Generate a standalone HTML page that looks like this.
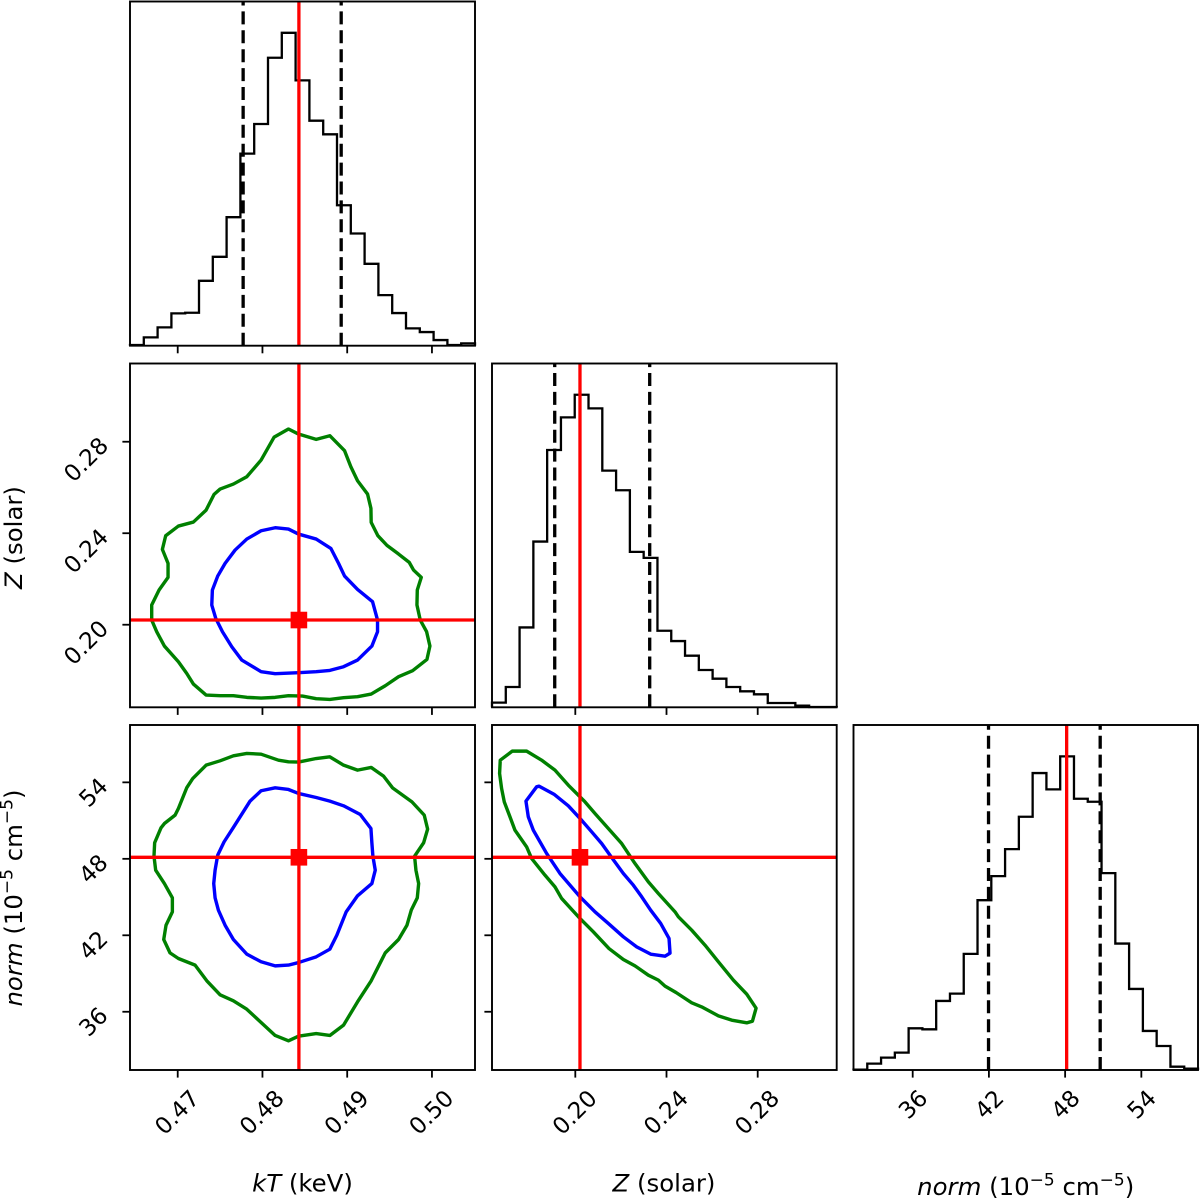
<!DOCTYPE html>
<html lang="en">
<head>
<meta charset="utf-8">
<title>Corner plot of kT, Z and norm</title>
<style>
html,body{margin:0;padding:0;background:#fff;}
svg{display:block;}
text{font-family:"DejaVu Sans","Liberation Sans",sans-serif;fill:#000;}
.tick-label{font-size:23px;}
.axis-title{font-size:24.4px;}
.math{font-style:italic;}
</style>
</head>
<body>
<svg id="chart" xmlns="http://www.w3.org/2000/svg" width="1200" height="1198" viewBox="0 0 1200 1198">
  <rect x="0" y="0" width="1200" height="1198" fill="#fff"/>
  <g id="panels"></g>
  <text class="axis-title" text-anchor="middle" x="302.5" y="1191.5"><tspan class="math">kT</tspan> (keV)</text>
  <text class="axis-title" text-anchor="middle" x="664" y="1191.5"><tspan class="math">Z</tspan> (solar)</text>
  <text class="axis-title" text-anchor="middle" x="1025.7" y="1195"><tspan class="math">norm</tspan> (10<tspan dy="-9.5" font-size="17">−5</tspan><tspan dy="9.5"> cm</tspan><tspan dy="-9.5" font-size="17">−5</tspan><tspan dy="9.5">)</tspan></text>
  <text class="axis-title" text-anchor="middle" transform="translate(22 537.5) rotate(-90)"><tspan class="math">Z</tspan> (solar)</text>
  <text class="axis-title" text-anchor="middle" transform="translate(22 898) rotate(-90)"><tspan class="math">norm</tspan> (10<tspan dy="-9.5" font-size="17">−5</tspan><tspan dy="9.5"> cm</tspan><tspan dy="-9.5" font-size="17">−5</tspan><tspan dy="9.5">)</tspan></text>
</svg>
<script>
// ---- data ----
const histKt = [2,25,55,97,99,195,267,386,577,666,865,940,797,676,635,422,337,246,152,98,52,41,17,2,7];
const histZ = [14,61,240,498,773,871,939,898,711,652,467,449,230,199,155,112,86,61,48,39,13,13,5,1,1];
const histNorm = [1,19,37,52,125,122,207,229,348,509,581,662,759,890,841,940,813,804,590,379,243,117,72,10,4];

const ktTicks = ["0.47","0.48","0.49","0.50"];
const zTicks = ["0.20","0.24","0.28"];
const normTicks = ["36","42","48","54"];

const ktLimits = [0.46437,0.50508];
const zLimitsX = [0.16346,0.31465];
const zLimitsY = [0.1639,0.3142];
const normLimitsX = [31.34,58.46];
const normLimitsY = [31.43,58.50];

const truthKt = 0.48430;
const truthZ = 0.20205;
const truthNorm = 48.12;

const quantilesKt = [0.47772,0.48929];
const quantilesZ = [0.19097,0.23263];
const quantilesNorm = [41.97,50.76];

const contourKtZOuter = [[.48307,.28555],[.48425,.28336],[.48634,.28103],[.48795,.28263],[.48969,.27607],[.49043,.26908],[.49122,.26296],[.49240,.25713],[.49280,.25086],[.49283,.24474],[.49362,.23891],[.49469,.23469],[.49606,.23090],[.49732,.22725],[.49783,.22390],[.49874,.22069],[.49827,.21516],[.49823,.20860],[.49862,.20204],[.49937,.19694],[.49976,.19067],[.49941,.18484],[.49772,.17989],[.49606,.17727],[.49449,.17333],[.49283,.16969],[.49122,.16853],[.48957,.16809],[.48795,.16736],[.48634,.16765],[.48472,.16882],[.48307,.16897],[.48150,.16824],[.47984,.16795],[.47815,.16824],[.47657,.16897],[.47500,.16897],[.47335,.16926],[.47185,.17407],[.47106,.17873],[.47008,.18383],[.46843,.19067],[.46752,.19694],[.46693,.20204],[.46693,.20860],[.46780,.21516],[.46886,.22069],[.46886,.22681],[.46819,.23293],[.46858,.23891],[.47008,.24313],[.47185,.24488],[.47335,.25012],[.47429,.25697],[.47500,.25930],[.47657,.26149],[.47815,.26469],[.47984,.27198],[.48138,.28203]];

const contourKtZInner = [[.48150,.24240],[.48307,.24182],[.48425,.23963],[.48634,.23745],[.48807,.23337],[.48898,.22681],[.48969,.22127],[.49122,.21544],[.49299,.21005],[.49358,.20204],[.49358,.19694],[.49291,.19067],[.49122,.18456],[.48957,.18164],[.48795,.18004],[.48634,.17946],[.48425,.17902],[.48150,.17858],[.47984,.17946],[.47756,.18456],[.47638,.19038],[.47528,.19694],[.47449,.20277],[.47402,.20860],[.47409,.21516],[.47472,.22127],[.47559,.22681],[.47677,.23264],[.47815,.23745],[.47984,.24109]];

const contourKtNormOuter = [[.47815,56.27],[.47984,56.21],[.48189,55.74],[.48307,55.61],[.48425,55.59],[.48634,55.87],[.48795,56.00],[.48957,55.35],[.49122,54.96],[.49283,55.17],[.49429,54.49],[.49535,53.57],[.49764,52.47],[.49909,51.43],[.49949,50.33],[.49902,49.26],[.49795,48.21],[.49811,47.11],[.49843,46.06],[.49827,44.94],[.49756,43.97],[.49705,42.79],[.49606,41.67],[.49449,40.62],[.49283,38.43],[.49122,36.78],[.48957,34.95],[.48795,34.14],[.48634,34.29],[.48425,34.08],[.48307,33.72],[.48150,34.14],[.47984,35.16],[.47815,36.20],[.47657,36.86],[.47500,37.33],[.47343,38.43],[.47205,39.66],[.47008,40.18],[.46909,40.62],[.46835,41.67],[.46862,42.79],[.46937,43.84],[.46937,44.94],[.46843,46.06],[.46740,47.11],[.46720,48.21],[.46728,49.26],[.46803,50.43],[.46843,50.77],[.46969,51.43],[.47008,51.95],[.47106,53.57],[.47177,54.30],[.47335,55.35],[.47500,55.69],[.47657,56.08]];

const contourKtNormInner = [[.48150,53.57],[.48307,53.44],[.48425,53.13],[.48634,52.81],[.48795,52.53],[.48957,52.16],[.49154,51.48],[.49280,50.38],[.49291,49.26],[.49303,48.21],[.49331,47.11],[.49291,46.06],[.49122,45.10],[.48988,43.84],[.48878,42.01],[.48795,40.91],[.48634,40.31],[.48425,39.86],[.48307,39.66],[.48150,39.60],[.47984,39.92],[.47815,40.52],[.47657,41.67],[.47559,42.79],[.47480,43.97],[.47441,44.94],[.47425,46.06],[.47441,47.11],[.47472,48.29],[.47547,49.33],[.47657,50.46],[.47854,52.53],[.47984,53.34]];

const contourZNormOuter = [[.16708,55.74],[.16679,54.70],[.16767,53.52],[.16884,52.47],[.17133,51.30],[.17352,50.25],[.17864,48.94],[.18083,48.03],[.18669,46.72],[.19108,45.80],[.19400,44.89],[.20205,43.32],[.20790,42.27],[.21478,40.96],[.22107,40.10],[.22619,39.60],[.23204,38.87],[.23643,38.48],[.23935,38.01],[.24418,37.51],[.25106,36.70],[.25545,36.38],[.26276,35.68],[.26861,35.34],[.27520,35.13],[.27769,35.26],[.27929,36.28],[.27520,37.38],[.26935,38.48],[.26276,39.92],[.25691,41.22],[.25106,42.40],[.24521,43.45],[.24374,43.84],[.23643,45.28],[.23204,46.19],[.22619,47.63],[.22034,49.20],[.21448,50.38],[.20863,51.56],[.20424,52.47],[.20205,52.87],[.19693,53.78],[.19108,54.96],[.18522,55.74],[.17864,56.45],[.17235,56.45]];

const contourZNormInner = [[.17835,52.53],[.17937,51.30],[.18157,50.25],[.18742,48.42],[.19327,46.85],[.20205,45.02],[.20863,43.84],[.21448,42.93],[.22107,41.88],[.22692,41.09],[.23306,40.52],[.23935,40.36],[.24155,40.60],[.24111,41.75],[.23745,42.93],[.23306,43.97],[.22911,45.02],[.22546,45.93],[.22107,46.85],[.21595,48.10],[.21156,49.20],[.20717,50.12],[.20205,51.17],[.19693,52.16],[.19064,53.07],[.18405,53.70],[.18303,53.65]];

// ---- layout ----
const NS = 'http://www.w3.org/2000/svg';
const columns = [[130,475],[492,836.7],[853.5,1198]];
const rows = [[1.5,345.7],[363.5,707.3],[725,1070]];
const root = document.getElementById('panels');

function make(tag, attrs, parent) {
  const node = document.createElementNS(NS, tag);
  for (const key in attrs) node.setAttribute(key, attrs[key]);
  (parent || root).appendChild(node);
  return node;
}
function linear(domain, range) {
  return v => range[0] + (v - domain[0]) / (domain[1] - domain[0]) * (range[1] - range[0]);
}

function drawFrame(g, box) {
  const frame = make('rect', {x: box.l, y: box.t, width: box.r - box.l, height: box.b - box.t, fill: 'none', stroke: '#000', 'stroke-width': 1.9}, g);
  
  
}

function drawXTicks(g, box, scale, ticks, showLabels) {
  ticks.forEach(label => {
    const x = scale(parseFloat(label));
    const tick = make('line', {x1: x, x2: x, y1: box.b, y2: box.b + 7.6, stroke: '#000', 'stroke-width': 1.8}, g);
    
    
    if (showLabels) {
      const long = label.length > 2;
      const cx = long ? x - 1 : x;
      const cy = box.b + (long ? 42 : 34);
      const text = make('text', {class: 'tick-label', 'text-anchor': 'middle', x: cx, y: cy + 8.4, transform: 'rotate(-45 ' + cx + ' ' + cy + ')'}, g);
      text.textContent = label;
      
      
    }
  });
}

function drawYTicks(g, box, scale, ticks, showLabels) {
  ticks.forEach(label => {
    const y = scale(parseFloat(label));
    const tick = make('line', {x1: box.l - 7.6, x2: box.l, y1: y, y2: y, stroke: '#000', 'stroke-width': 1.8}, g);
    
    
    if (showLabels) {
      const long = label.length > 2;
      const cx = long ? 85.7 : 93;
      const cy = y + (long ? 17.5 : 9.7);
      const text = make('text', {class: 'tick-label', 'text-anchor': 'middle', x: cx, y: cy + 8.4, transform: 'rotate(-45 ' + cx + ' ' + cy + ')'}, g);
      text.textContent = label;
      
      
    }
  });
}

function drawHistogram(col, row, values, limits, ticks, quantiles, truth, name, showLabels) {
  const box = {l: columns[col][0], r: columns[col][1], t: rows[row][0], b: rows[row][1]};
  const g = make('g', {});
  
  
  const x = linear(limits, [box.l, box.r]);
  const y = linear([0, Math.max.apply(null, values) * 1.1], [box.b, box.t]);
  const binWidth = (limits[1] - limits[0]) / values.length;
  let d = 'M' + box.l + ' ' + box.b;
  values.forEach((v, i) => {
    const x0 = x(limits[0] + i * binWidth);
    const x1 = x(limits[0] + (i + 1) * binWidth);
    d += 'L' + x0 + ' ' + y(v) + 'L' + x1 + ' ' + y(v);
  });
  d += 'L' + box.r + ' ' + box.b;
  const hist = make('path', {d: d, fill: 'none', stroke: '#000', 'stroke-width': 2.3, 'stroke-linejoin': 'miter'}, g);
  
  
  quantiles.forEach((q, i) => {
    const line = make('line', {x1: x(q), x2: x(q), y1: box.b, y2: box.t, stroke: '#000', 'stroke-width': 3.3, 'stroke-dasharray': '13 5.9'}, g);
    
    
  });
  const truthLine = make('line', {x1: x(truth), x2: x(truth), y1: box.t, y2: box.b, stroke: '#f00', 'stroke-width': 3.3}, g);
  
  
  drawFrame(g, box);
  drawXTicks(g, box, x, ticks, showLabels);
}

function drawContour(g, points, sx, sy, color, name) {
  const d = points.map((p, i) => (i ? 'L' : 'M') + sx(p[0]) + ' ' + sy(p[1])).join('') + 'Z';
  const path = make('path', {d: d, fill: 'none', stroke: color, 'stroke-width': 3.4, 'stroke-linejoin': 'round'}, g);
  
  
}

function drawJoint(col, row, xLimits, yLimits, xTicks, yTicks, outer, inner, truthX, truthY, name, showXLabels, showYLabels) {
  const box = {l: columns[col][0], r: columns[col][1], t: rows[row][0], b: rows[row][1]};
  const g = make('g', {});
  
  
  const x = linear(xLimits, [box.l, box.r]);
  const y = linear(yLimits, [box.b, box.t]);
  drawContour(g, outer, x, y, '#008000', 'outer-contour-' + name);
  drawContour(g, inner, x, y, '#0000ff', 'inner-contour-' + name);
  const vLine = make('line', {x1: x(truthX), x2: x(truthX), y1: box.t, y2: box.b, stroke: '#f00', 'stroke-width': 3.3}, g);
  
  
  const hLine = make('line', {x1: box.l, x2: box.r, y1: y(truthY), y2: y(truthY), stroke: '#f00', 'stroke-width': 3.3}, g);
  
  
  const marker = make('rect', {x: x(truthX) - 8.3, y: y(truthY) - 8.3, width: 16.6, height: 16.6, fill: '#f00'}, g);
  
  
  drawFrame(g, box);
  drawXTicks(g, box, x, xTicks, showXLabels);
  drawYTicks(g, box, y, yTicks, showYLabels);
}

drawHistogram(0, 0, histKt, ktLimits, ktTicks, quantilesKt, truthKt, 'kt', false);
drawHistogram(1, 1, histZ, zLimitsX, zTicks, quantilesZ, truthZ, 'z', false);
drawHistogram(2, 2, histNorm, normLimitsX, normTicks, quantilesNorm, truthNorm, 'norm', true);
drawJoint(0, 1, ktLimits, zLimitsY, ktTicks, zTicks, contourKtZOuter, contourKtZInner, truthKt, truthZ, 'kt-z', false, true);
drawJoint(0, 2, ktLimits, normLimitsY, ktTicks, normTicks, contourKtNormOuter, contourKtNormInner, truthKt, truthNorm, 'kt-norm', true, true);
drawJoint(1, 2, zLimitsX, normLimitsY, zTicks, normTicks, contourZNormOuter, contourZNormInner, truthZ, truthNorm, 'z-norm', true, false);
</script>
</body>
</html>
